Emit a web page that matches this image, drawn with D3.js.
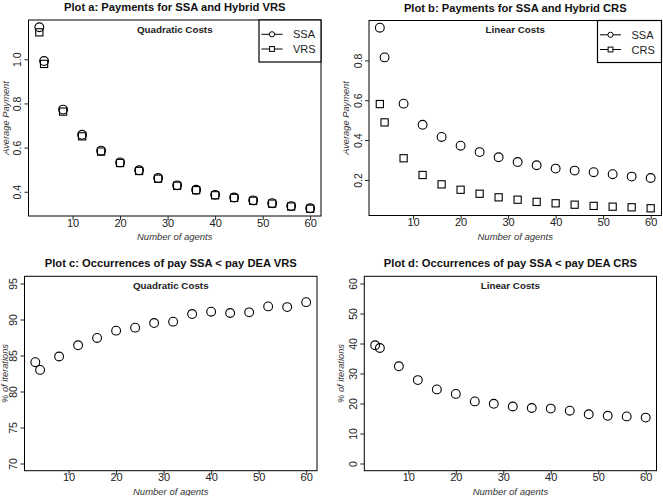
<!DOCTYPE html>
<html>
<head>
<meta charset="utf-8">
<script src="https://cdn.jsdelivr.net/npm/d3@7"></script>
<style>
  html, body { margin: 0; padding: 0; background: #fff; }
  svg { display: block; font-family: "Liberation Sans", Arial, sans-serif; }
</style>
</head>
<body>
<svg id="chart" width="663" height="496"></svg>
<script>
// ---------------- data ----------------
const agents = [3, 4, 8, 12, 16, 20, 24, 28, 32, 36, 40, 44, 48, 52, 56, 60];

const ssaQuadratic = [1.145, 0.992, 0.772, 0.658, 0.586, 0.533, 0.497, 0.462, 0.429, 0.409, 0.386, 0.374, 0.361, 0.348, 0.335, 0.325];
const vrsQuadratic = [1.122, 0.979, 0.763, 0.651, 0.582, 0.530, 0.494, 0.459, 0.427, 0.407, 0.384, 0.372, 0.359, 0.346, 0.333, 0.323];

const ssaLinear = [0.964, 0.815, 0.583, 0.477, 0.416, 0.372, 0.340, 0.314, 0.290, 0.274, 0.257, 0.247, 0.239, 0.229, 0.217, 0.210];
const crsLinear = [0.581, 0.489, 0.309, 0.225, 0.178, 0.151, 0.131, 0.113, 0.101, 0.090, 0.083, 0.076, 0.070, 0.066, 0.063, 0.058];

const pctVRS = [84.07, 83.0, 84.86, 86.42, 87.44, 88.45, 88.87, 89.51, 89.70, 90.76, 91.08, 90.9, 90.99, 91.82, 91.72, 92.41];
const pctCRS = [39.4, 38.5, 32.4, 27.8, 24.7, 23.2, 20.7, 19.9, 19.0, 18.5, 18.3, 17.6, 16.4, 15.9, 15.7, 15.3];

const xTicks = [10, 20, 30, 40, 50, 60];
const yTicksA = [0.4, 0.6, 0.8, 1.0];
const yTicksB = [0.2, 0.4, 0.6, 0.8];
const yTicksC = [70, 75, 80, 85, 90, 95];
const yTicksD = [0, 10, 20, 30, 40, 50, 60];

const titles = [
  "Plot a: Payments for SSA and Hybrid VRS",
  "Plot b: Payments for SSA and Hybrid CRS",
  "Plot c: Occurrences of pay SSA < pay DEA VRS",
  "Plot d: Occurrences of pay SSA < pay DEA CRS"
];
const subtitles = ["Quadratic Costs", "Linear Costs", "Quadratic Costs", "Linear Costs"];
const xLabel = "Number of agents";
const yLabels = ["Average Payment", "Average Payment", "% of iterations", "% of iterations"];
const legendA = ["SSA", "VRS"];
const legendB = ["SSA", "CRS"];

// ---------------- helpers ----------------
const svg = d3.select("#chart");

function pad(ext) { const r = ext[1] - ext[0]; return [ext[0] - 0.04 * r, ext[1] + 0.04 * r]; }

function panel(opt) {
  const g = svg.append("g");
  const { left, right, top, bottom } = opt.box;
  const x = d3.scaleLinear().domain(pad(d3.extent(agents))).range([left, right]);
  const y = d3.scaleLinear().domain(pad(opt.yExtent)).range([bottom, top]);

  // box
  g.append("rect").attr("x", left).attr("y", top)
    .attr("width", right - left).attr("height", bottom - top)
    .attr("fill", "none").attr("stroke", "#000").attr("stroke-width", 1);

  // x axis
  const ax = g.append("g").attr("transform", `translate(0,${bottom})`)
    .call(d3.axisBottom(x).tickValues(xTicks).tickSize(4).tickPadding(2).tickFormat(d3.format("d")));
  ax.select(".domain").remove();
  ax.selectAll("line").attr("stroke", "#222");
  ax.selectAll("text").attr("font-size", 11).attr("fill", "#222")
    .attr("font-family", "Liberation Sans, Arial, sans-serif")
    .attr("y", 0).attr("dy", 0)
    .attr("transform", "translate(0,10.6)");

  // y axis
  const ay = g.append("g").attr("transform", `translate(${left},0)`)
    .call(d3.axisLeft(y).tickValues(opt.yTicks).tickSize(4).tickFormat(opt.yFormat));
  ay.select(".domain").remove();
  ay.selectAll("line").attr("stroke", "#222");
  ay.selectAll("text").attr("font-size", 10.5).attr("fill", "#222")
    .attr("font-family", "Liberation Sans, Arial, sans-serif")
    .attr("x", 0).attr("dy", 0).attr("text-anchor", "middle")
    .attr("transform", "translate(-7.5,0) rotate(-90)");

  // titles
  const cx = (left + right) / 2;
  g.append("text").attr("x", cx).attr("y", top - 9).attr("text-anchor", "middle")
    .attr("font-size", 11.2).attr("font-weight", "bold").attr("fill", "#111").text(opt.title);
  g.append("text").attr("x", cx).attr("y", top + 12.8).attr("text-anchor", "middle")
    .attr("font-size", 9.8).attr("font-weight", "bold").attr("fill", "#222").text(opt.subtitle);

  // axis labels
  g.append("text").attr("x", cx).attr("y", bottom + 24)
    .attr("text-anchor", "middle").attr("font-size", 9.5).attr("font-style", "italic")
    .attr("fill", "#333").text(xLabel);
  const ylx = Math.max(left - 20, 8.2);
  g.append("text").attr("text-anchor", "middle").attr("font-size", 9.3).attr("font-style", "italic")
    .attr("fill", "#333")
    .attr("transform", `translate(${ylx},${(top + bottom) / 2}) rotate(-90)`)
    .text(opt.yLabel);

  // series
  opt.series.forEach(s => {
    const pts = g.append("g");
    agents.forEach((a, i) => {
      const px = x(a), py = y(s.values[i]);
      if (s.shape === "circle") {
        pts.append("circle").attr("cx", px).attr("cy", py).attr("r", 4.4)
          .attr("fill", "none").attr("stroke", "#000").attr("stroke-width", 1.1);
      } else {
        pts.append("rect").attr("x", px - 3.6).attr("y", py - 3.6)
          .attr("width", 7.2).attr("height", 7.2)
          .attr("fill", "none").attr("stroke", "#000").attr("stroke-width", 1.1);
      }
    });
  });

  // legend
  if (opt.legend) {
    const lw = opt.legendWidth, lh = 42;
    const lx = right - lw, ly = top;
    const lg = g.append("g");
    lg.append("rect").attr("x", lx).attr("y", ly).attr("width", lw).attr("height", lh)
      .attr("fill", "#fff").attr("stroke", "#000").attr("stroke-width", 1.2);
    opt.legend.forEach((name, i) => {
      const yy = ly + 14.3 + i * 14.7;
      lg.append("line").attr("x1", lx + 2.5).attr("x2", lx + 23.5).attr("y1", yy).attr("y2", yy)
        .attr("stroke", "#000").attr("stroke-width", 1);
      if (i === 0) {
        lg.append("circle").attr("cx", lx + 13).attr("cy", yy).attr("r", 2.6)
          .attr("fill", "#fff").attr("stroke", "#000").attr("stroke-width", 1);
      } else {
        lg.append("rect").attr("x", lx + 10.6).attr("y", yy - 2.4).attr("width", 4.8).attr("height", 4.8)
          .attr("fill", "#fff").attr("stroke", "#000").attr("stroke-width", 1);
      }
      lg.append("text").attr("x", lx + 34).attr("y", yy + 4).attr("font-size", 11)
        .attr("fill", "#222").text(name);
    });
  }
}

panel({
  box: { left: 28.5, right: 321, top: 20, bottom: 216 },
  yExtent: d3.extent(ssaQuadratic.concat(vrsQuadratic)),
  yTicks: yTicksA, yFormat: d3.format(".1f"),
  title: titles[0], subtitle: subtitles[0], yLabel: yLabels[0],
  series: [{ values: ssaQuadratic, shape: "circle" }, { values: vrsQuadratic, shape: "square" }],
  legend: legendA, legendWidth: 62
});

panel({
  box: { left: 369, right: 661.5, top: 20.5, bottom: 215.5 },
  yExtent: d3.extent(ssaLinear.concat(crsLinear)),
  yTicks: yTicksB, yFormat: d3.format(".1f"),
  title: titles[1], subtitle: subtitles[1], yLabel: yLabels[1],
  series: [{ values: ssaLinear, shape: "circle" }, { values: crsLinear, shape: "square" }],
  legend: legendB, legendWidth: 64
});

panel({
  box: { left: 24.5, right: 317, top: 276.3, bottom: 470.7 },
  yExtent: [70, 95],
  yTicks: yTicksC, yFormat: d3.format("d"),
  title: titles[2], subtitle: subtitles[2], yLabel: yLabels[2],
  series: [{ values: pctVRS, shape: "circle" }]
});

panel({
  box: { left: 364.3, right: 656.5, top: 276.3, bottom: 470.7 },
  yExtent: [0, 60],
  yTicks: yTicksD, yFormat: d3.format("d"),
  title: titles[3], subtitle: subtitles[3], yLabel: yLabels[3],
  series: [{ values: pctCRS, shape: "circle" }]
});
</script>
</body>
</html>
